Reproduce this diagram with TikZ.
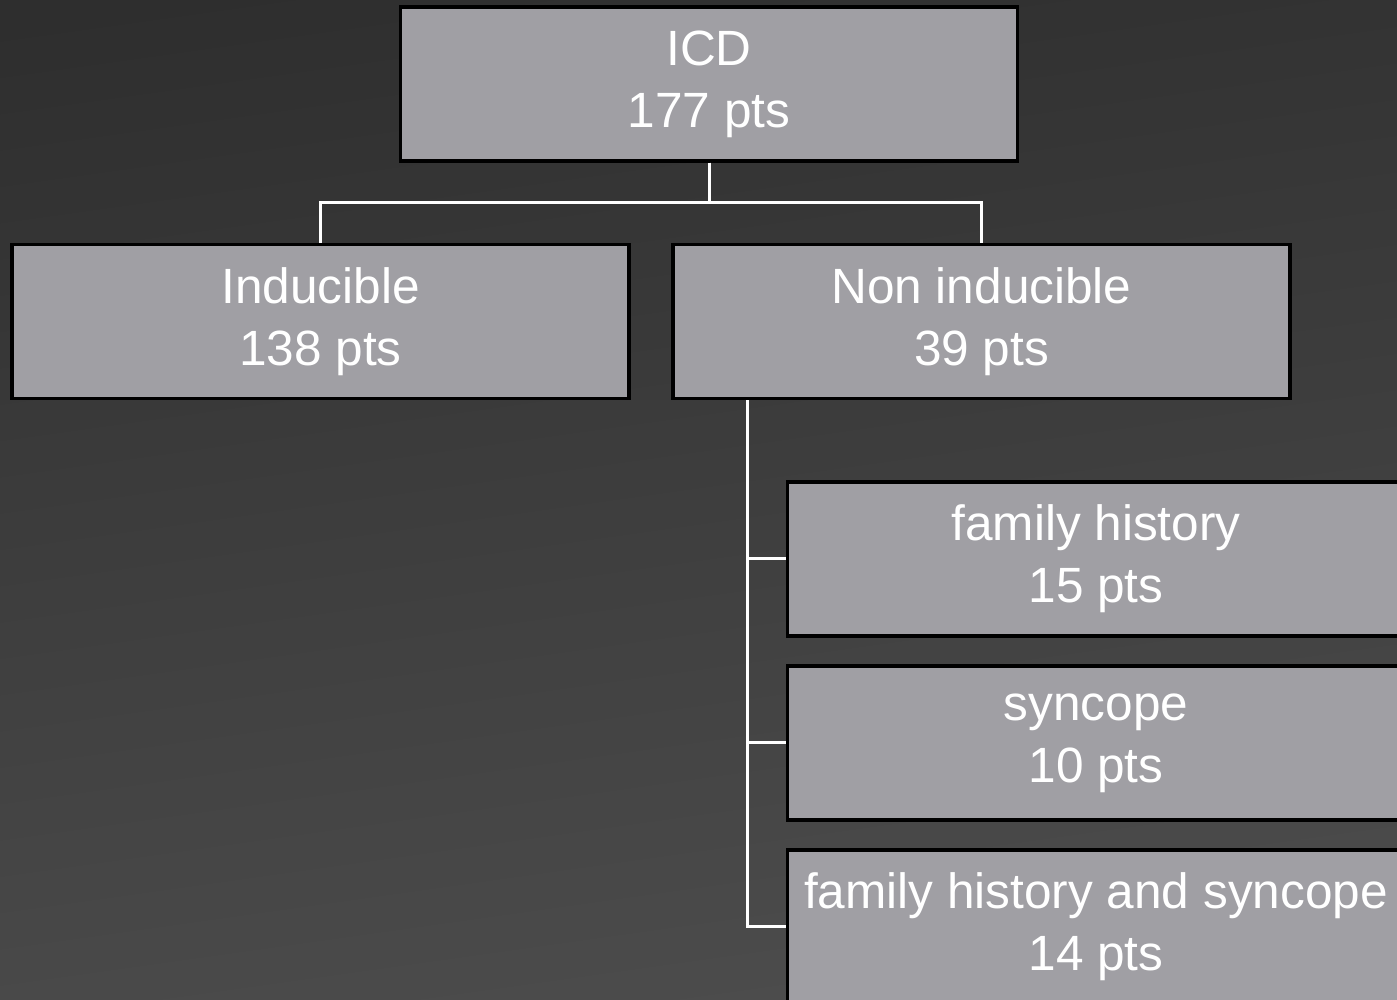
\documentclass[tikz,border=0pt]{standalone}
\usepackage{fontspec}
\setmainfont{Liberation Sans}
\usetikzlibrary{positioning}
\definecolor{bgtop}{rgb}{0.18,0.18,0.18}
\definecolor{bgbot}{rgb}{0.305,0.305,0.305}
\definecolor{boxgray}{rgb}{0.627,0.624,0.643}
\tikzset{
	box/.style={draw=black,line width=0.9pt,fill=boxgray,text=white,align=center,
		minimum width=6.17cm,minimum height=1.54cm,inner sep=0pt,
		font=\fontsize{14.1}{17.6}\selectfont},
	link/.style={draw=white,line width=0.85pt}
}

\begin{document}
\begin{tikzpicture}[line cap=butt,line join=miter,x=1.0cm,y=1.0cm]
	\useasboundingbox (0,0) rectangle (13.97,10.);
	\clip (0,0) rectangle (13.97,10.);
	\shade[top color=bgtop,bottom color=bgbot,shading angle=8] (-0.5,-0.5) rectangle (14.5,10.5);
	% top level
	\node[box] (icd) at (7.09,9.16) {ICD\\177 pts};
	\node[box] (ind) at (3.205,6.785) {Inducible\\138 pts};
	\node[box] (non) at (9.815,6.785) {Non inducible\\39 pts};
	% non inducible subgroups
	\node[box] (fam) at (10.96,4.41) {family history\\15 pts};
	\node[box] (syn) at (10.96,2.57) {syncope\\10 pts};
	\node[box] (both) at (10.96,0.73) {family history and syncope\\14 pts};
	\coordinate (trunk) at (7.47,5.);
	\draw[link] (icd.south) -- ++(0,-0.395) -| (ind.north);
	\draw[link] (icd.south) -- ++(0,-0.395) -| (non.north);
	\draw[link] (trunk |- non.south) -- (trunk |- both.west) -- (both.west);
	\draw[link] (trunk |- fam.west) -- (fam.west);
	\draw[link] (trunk |- syn.west) -- (syn.west);
\end{tikzpicture}
\end{document}
